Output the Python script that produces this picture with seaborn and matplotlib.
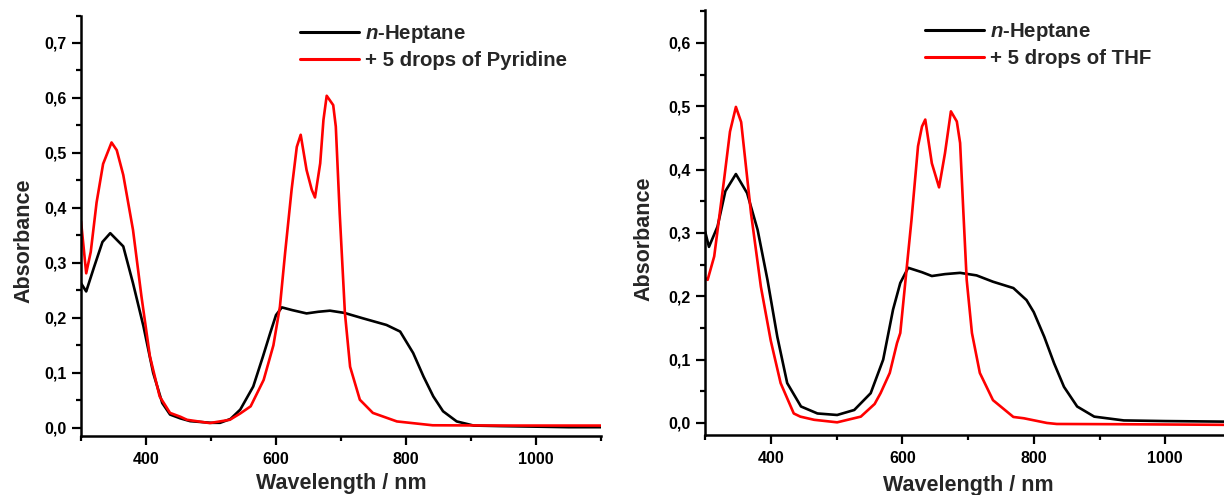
import numpy as np
import pandas as pd
import matplotlib
matplotlib.use("Agg")
import matplotlib.pyplot as plt
import matplotlib.ticker as mticker
import seaborn as sns

# ---------------- data ----------------
# Left panel: n-Heptane
L_hep_nm = [300, 308, 320, 333, 345, 365, 380, 396, 411, 425, 437, 453, 468, 500, 514, 530,
            545, 565, 580, 591, 600, 609, 625, 647, 665, 683, 705, 734, 770, 791, 811, 827,
            842, 857, 878, 904, 944, 1000, 1050, 1100]
L_hep_abs = [0.263, 0.248, 0.292, 0.338, 0.354, 0.330, 0.263, 0.185, 0.100, 0.045, 0.024, 0.017,
             0.012, 0.009, 0.009, 0.016, 0.033, 0.075, 0.130, 0.172, 0.205, 0.219, 0.214, 0.208,
             0.211, 0.213, 0.209, 0.199, 0.187, 0.175, 0.136, 0.093, 0.057, 0.030, 0.0115, 0.004,
             0.003, 0.002, 0.001, 0.001]
# Left panel: + 5 drops of Pyridine
L_pyr_nm = [300, 308, 315, 324, 334, 347, 355, 365, 380, 393, 406, 421, 437, 453, 463, 498,
            529, 545, 561, 581, 596, 606, 614, 624, 632, 638, 647, 655, 660, 668, 673, 678,
            688, 692, 698, 706, 714, 729, 749, 786, 841, 950, 1100]
L_pyr_abs = [0.376, 0.281, 0.320, 0.410, 0.480, 0.519, 0.505, 0.460, 0.360, 0.239, 0.130, 0.057,
             0.027, 0.020, 0.0145, 0.0085, 0.0145, 0.026, 0.039, 0.087, 0.150, 0.220, 0.318,
             0.433, 0.511, 0.533, 0.469, 0.433, 0.419, 0.481, 0.560, 0.604, 0.587, 0.548, 0.390,
             0.209, 0.111, 0.051, 0.027, 0.0115, 0.0045, 0.004, 0.004]

# Right panel: n-Heptane
R_hep_nm = [300, 306, 319, 331, 347, 364, 380, 395, 410, 425, 446, 471, 501, 527, 552, 571,
            586, 597, 609, 630, 645, 665, 688, 713, 738, 769, 789, 800, 816, 831, 846, 866,
            892, 937, 1000, 1100]
R_hep_abs = [0.303, 0.278, 0.310, 0.366, 0.393, 0.363, 0.305, 0.226, 0.136, 0.063, 0.026, 0.015,
             0.0126, 0.0205, 0.047, 0.100, 0.179, 0.221, 0.245, 0.238, 0.232, 0.235, 0.237,
             0.233, 0.223, 0.213, 0.194, 0.175, 0.136, 0.094, 0.057, 0.026, 0.010, 0.004, 0.003,
             0.002]
# Right panel: + 5 drops of THF
R_thf_nm = [300, 304, 314, 329, 338, 347, 355, 370, 385, 400, 415, 435, 445, 466, 501, 537,
            558, 567, 581, 592, 597, 607, 614, 624, 630, 635, 645, 656, 665, 674, 683, 688,
            693, 698, 706, 718, 738, 769, 785, 820, 835, 934, 1100]
R_thf_abs = [0.229, 0.226, 0.263, 0.384, 0.460, 0.499, 0.475, 0.331, 0.215, 0.130, 0.063, 0.015,
             0.010, 0.005, 0.001, 0.010, 0.030, 0.047, 0.079, 0.126, 0.142, 0.247, 0.320, 0.437,
             0.468, 0.479, 0.410, 0.372, 0.426, 0.492, 0.476, 0.442, 0.332, 0.226, 0.142, 0.079,
             0.036, 0.0095, 0.0074, 0.000, -0.0016, -0.002, -0.003]

left_labels = ["$n$-Heptane", "+ 5 drops of Pyridine"]
right_labels = ["$n$-Heptane", "+ 5 drops of THF"]
x_label = "Wavelength / nm"
y_label = "Absorbance"

# ---------------- style ----------------
sns.set_theme(style="ticks")
plt.rcParams["font.family"] = ["Liberation Sans", "DejaVu Sans"]
plt.rcParams["font.weight"] = "bold"
plt.rcParams["axes.labelweight"] = "bold"
plt.rcParams["mathtext.fontset"] = "custom"
plt.rcParams["mathtext.it"] = "Liberation Sans:bold:italic"
plt.rcParams["mathtext.rm"] = "Liberation Sans:bold"

fig = plt.figure(figsize=(12.24, 4.95), dpi=100)
axL = fig.add_axes([81 / 1224, 59 / 495, 520 / 1224, 420.5 / 495])
axR = fig.add_axes([705 / 1224, 60 / 495, 526 / 1224, 425 / 495])


def long_df(nm1, a1, nm2, a2, labels):
    d1 = pd.DataFrame({"nm": nm1, "abs": a1, "series": labels[0]})
    d2 = pd.DataFrame({"nm": nm2, "abs": a2, "series": labels[1]})
    return pd.concat([d1, d2], ignore_index=True)


dfL = long_df(L_hep_nm, L_hep_abs, L_pyr_nm, L_pyr_abs, left_labels)
dfR = long_df(R_hep_nm, R_hep_abs, R_thf_nm, R_thf_abs, right_labels)

comma = mticker.FuncFormatter(lambda v, p: f"{v:.1f}".replace(".", ","))

panels = [
    (axL, dfL, left_labels, (-0.015, 0.75), (-0.09, 0.464), 4, (300 / 1224, 1 - 23 / 495)),
    (axR, dfR, right_labels, (-0.019, 0.652), (-0.097, 0.461), 6.5, (925 / 1224, 1 - 21 / 495)),
]
for ax, df, labels, ylim, ylab_xy, xpad, leg_anchor in panels:
    pal = {labels[0]: "black", labels[1]: "#ff0000"}
    sns.lineplot(data=df, x="nm", y="abs", hue="series", hue_order=labels,
                 palette=pal, ax=ax, linewidth=1.9, sort=True, estimator=None)
    ax.set_xlim(300, 1100)
    ax.set_ylim(*ylim)
    ax.xaxis.set_major_locator(mticker.FixedLocator([400, 600, 800, 1000]))
    ax.xaxis.set_minor_locator(mticker.MultipleLocator(100))
    ax.yaxis.set_major_locator(mticker.MultipleLocator(0.1))
    ax.yaxis.set_minor_locator(mticker.MultipleLocator(0.05))
    ax.yaxis.set_major_formatter(comma)
    for s in ["top", "right"]:
        ax.spines[s].set_visible(False)
    for s in ["left", "bottom"]:
        ax.spines[s].set_linewidth(1.8)
        ax.spines[s].set_color("black")
    ax.tick_params(which="major", direction="out", length=6.5, width=1.6,
                   labelsize=11.5, colors="black")
    ax.tick_params(axis="y", which="major", pad=3.5)
    ax.tick_params(axis="x", which="major", pad=5)
    ax.tick_params(which="minor", direction="out", length=3.5, width=1.6, colors="black")
    for t in ax.get_xticklabels() + ax.get_yticklabels():
        t.set_fontweight("bold")
    ax.set_xlabel(x_label, fontsize=15.5, fontweight="bold", labelpad=xpad)
    ax.set_ylabel(y_label, fontsize=15.5, fontweight="bold")
    ax.yaxis.set_label_coords(*ylab_xy)
    ax.legend_.remove()
    leg = ax.legend(handles=ax.get_lines()[:2], labels=labels, loc="upper left",
                    bbox_to_anchor=leg_anchor, bbox_transform=fig.transFigure,
                    frameon=False, fontsize=14.7, handlelength=2.9, handletextpad=0.28,
                    labelspacing=0.3, borderpad=0, borderaxespad=0)
    for t in leg.get_texts():
        t.set_fontweight("bold")
    for h in leg.get_lines():
        h.set_linewidth(2.2)

fig.savefig("out.png", dpi=100)
